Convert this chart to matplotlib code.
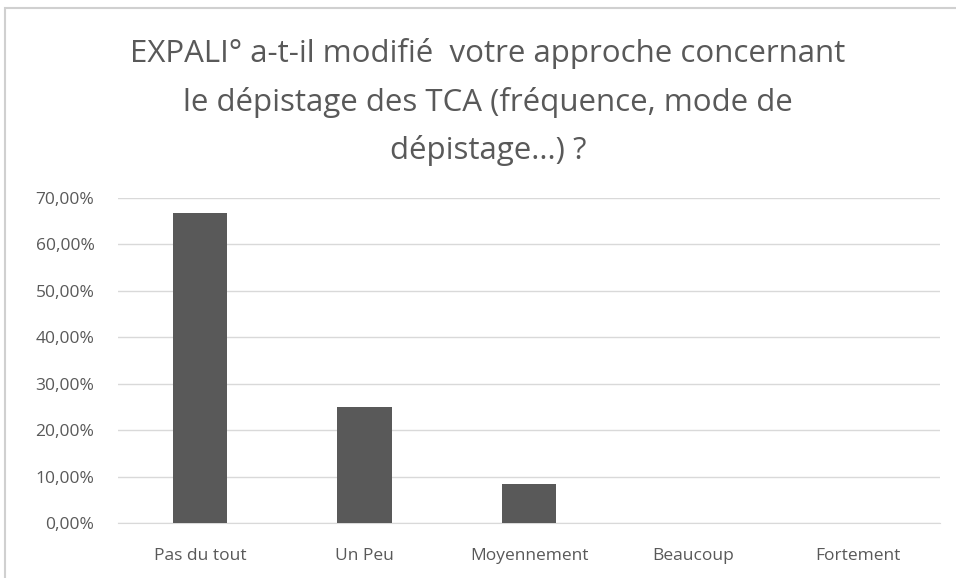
import matplotlib
matplotlib.use("Agg")
import matplotlib.pyplot as plt
from matplotlib.ticker import FuncFormatter, MultipleLocator
from matplotlib.patches import Rectangle

categories = ["Pas du tout", "Un Peu", "Moyennement", "Beaucoup", "Fortement"]
values = [66.67, 25.0, 8.33, 0.0, 0.0]
title = "EXPALI° a-t-il modifié  votre approche concernant\nle dépistage des TCA (fréquence, mode de\ndépistage...) ?"

plt.rcParams['font.family'] = ['Open Sans', 'DejaVu Sans']
fig = plt.figure(figsize=(9.56, 5.78), dpi=100)
W, H = 956, 578
ax = fig.add_axes([118 / W, 1 - 523 / H, 822 / W, 325 / H])

txt = "#595959"
x = range(len(categories))
ax.bar(x, values, width=0.33, color="#595959", zorder=3)
ax.set_xlim(-0.5, len(categories) - 0.5)
ax.set_ylim(0, 70)
ax.yaxis.set_major_locator(MultipleLocator(10))
ax.yaxis.set_major_formatter(FuncFormatter(lambda v, p: f"{v:.2f}".replace(".", ",") + "%"))
ax.set_xticks(list(x))
ax.set_xticklabels(categories)
ax.grid(axis="y", color="#d9d9d9", linewidth=1, zorder=0)
for s in ["top", "right", "left"]:
    ax.spines[s].set_visible(False)
ax.spines["bottom"].set_color("#d9d9d9")
ax.tick_params(axis="both", length=0, colors=txt, labelsize=12.5)
ax.tick_params(axis="x", pad=18)
ax.tick_params(axis="y", pad=17)

fig.text(488 / W, 1 - 102 / H, title, ha="center", va="center",
         fontsize=22.5, color=txt, linespacing=1.74)

fig.patches.append(Rectangle((5 / W, -0.1), 1.2, 1 - 8 / H + 0.1, transform=fig.transFigure,
                             fill=False, edgecolor="#d0d0d0", linewidth=1.5))

fig.savefig("out.png", dpi=100)
